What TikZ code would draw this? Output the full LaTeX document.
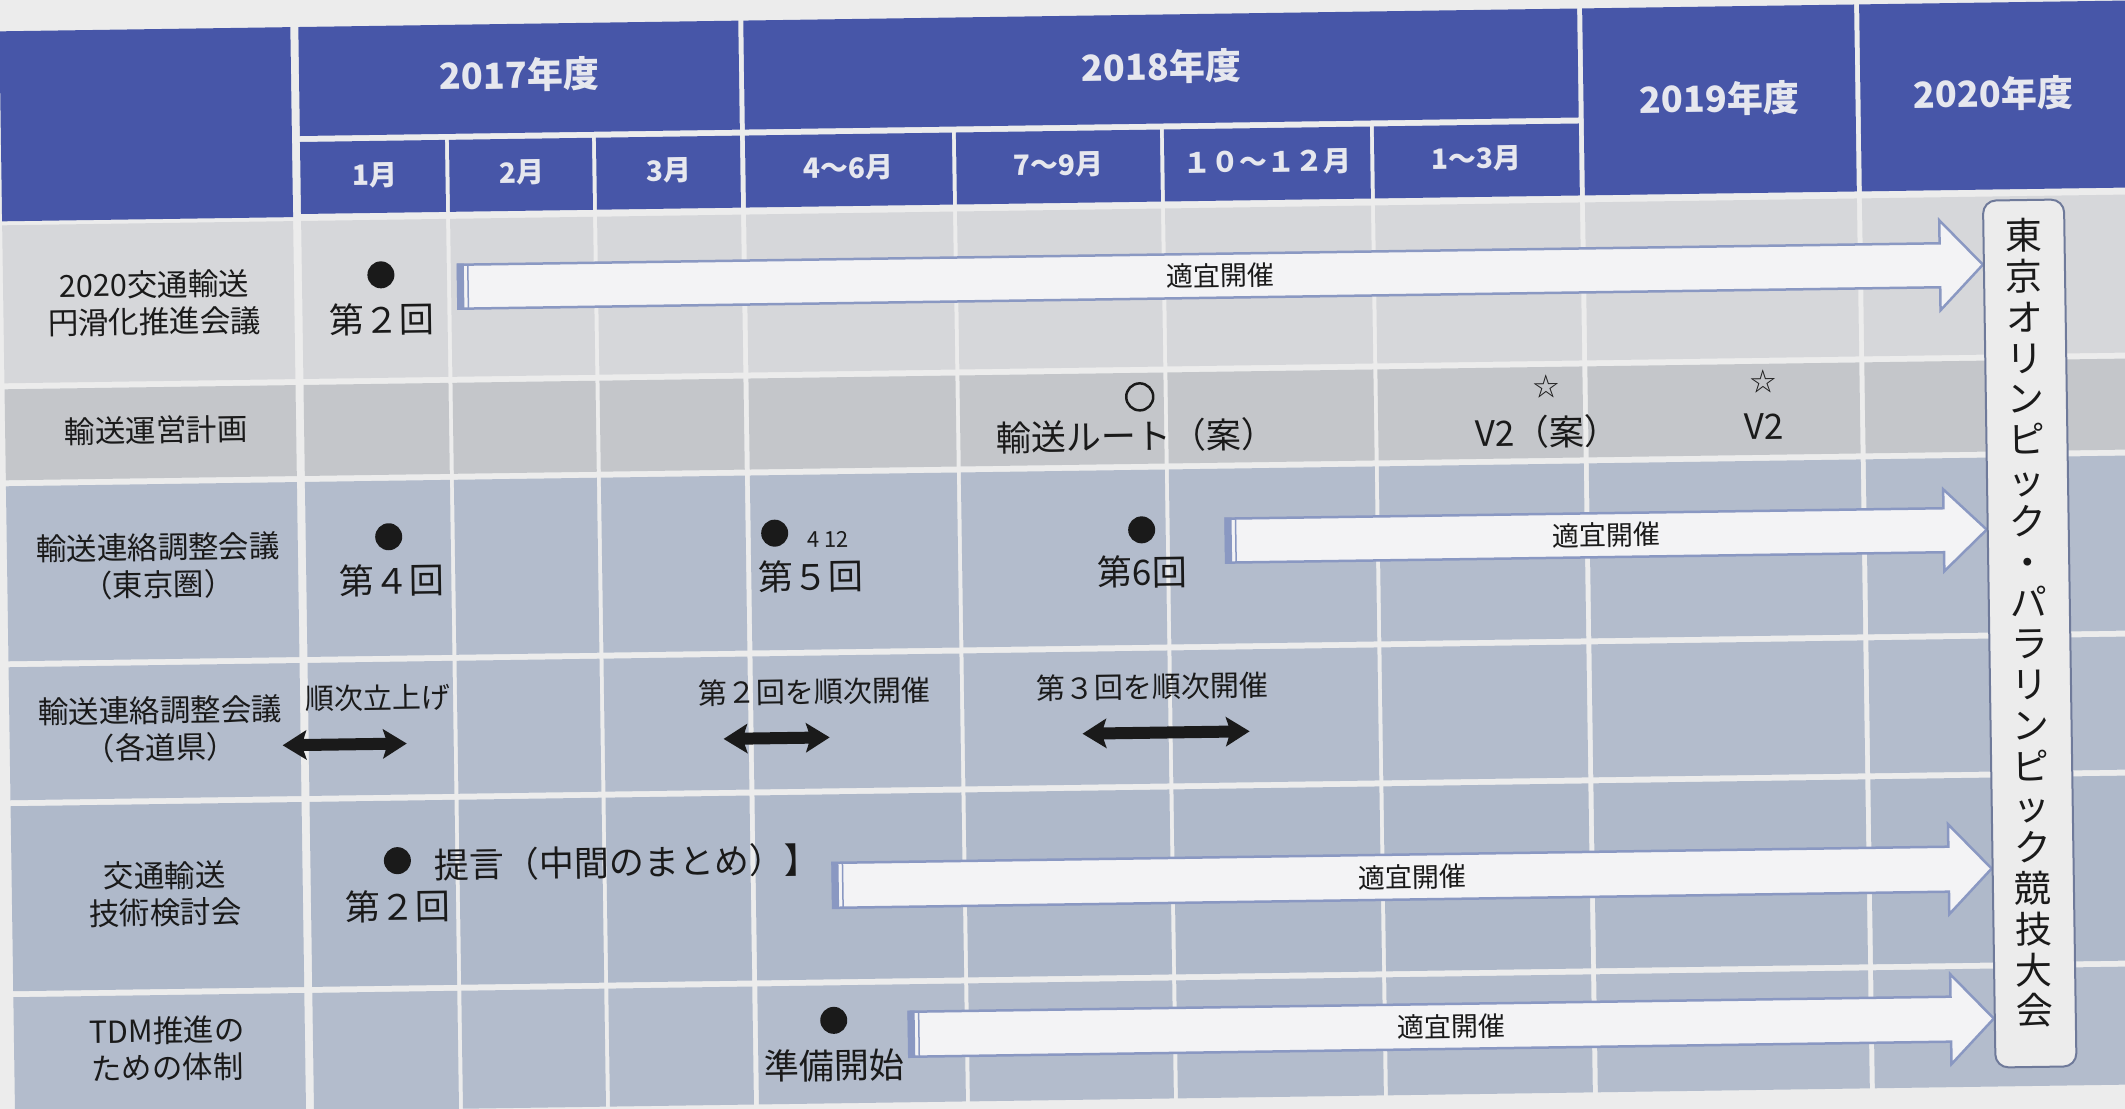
\documentclass[tikz,border=0pt]{standalone}
\usepackage{fontspec}
\newfontfamily\jp{Noto Sans CJK JP}
\definecolor{paper}{HTML}{ECECEC}
\definecolor{hdrblue}{HTML}{4756A8}
\definecolor{hdrtxt}{HTML}{E6E7EE}
\definecolor{rowA}{HTML}{D6D7DA}
\definecolor{rowB}{HTML}{C4C6CA}
\definecolor{rowC}{HTML}{B3BCCC}
\definecolor{rowD}{HTML}{AFB9CA}
\definecolor{arrline}{HTML}{8A98C2}
\definecolor{arrfill}{HTML}{F3F3F5}
\definecolor{boxline}{HTML}{6F7A9A}
\definecolor{ink}{HTML}{1A1A1A}
\tikzset{
  hdrt/.style={text=hdrtxt,font=\jp\bfseries\fontsize{36}{42}\selectfont,inner sep=0pt},
  mont/.style={text=hdrtxt,font=\jp\bfseries\fontsize{28}{32}\selectfont,inner sep=0pt},
  lbl/.style={text=ink,align=center,font=\jp\fontsize{30.5}{37}\selectfont,inner sep=0pt},
  bigt/.style={text=ink,font=\jp\fontsize{35}{40}\selectfont,inner sep=0pt},
  midt/.style={text=ink,font=\jp\fontsize{29}{34}\selectfont,inner sep=0pt},
  art/.style={text=ink,font=\jp\fontsize{27}{32}\selectfont,inner sep=0pt},
  smallt/.style={text=ink,font=\jp\fontsize{22}{24}\selectfont,inner sep=0pt},
  blkarr/.style={fill=arrfill,draw=arrline,line width=2.5pt,line join=miter},
  dotc/.style={circle,fill=ink,inner sep=0pt,minimum size=27pt},
  startxt/.style={text=ink,font=\jp\fontsize{26}{28}\selectfont,inner sep=0pt},
}
% block arrow: #1 left x, #2 centre y, #3 body half height, #4 head half height, #5 node name
\newcommand{\blkarrow}[5]{%
  \draw[blkarr] ({#1},{#2-#3}) -- (1944,{#2-#3}) -- (1944,{#2-#4}) -- (1987,{#2})
     -- (1944,{#2+#4}) -- (1944,{#2+#3}) -- ({#1},{#2+#3}) -- cycle;
  \fill[arrline] ({#1-1},{#2-#3-1}) rectangle ({#1+6},{#2+#3+1});
  \draw[arrline,line width=1.5pt] ({#1+10},{#2-#3}) -- ({#1+10},{#2+#3});
  \node[art] (#5) at ({(#1+1987)/2},{#2}) {適宜開催};
}
% double arrow: #1 left x, #2 right x, #3 y
\newcommand{\dblarrow}[3]{%
  \fill[ink] ({#1},{#3}) -- ({#1+24},{#3-15}) -- ({#1+21},{#3-6}) -- ({#2-21},{#3-6})
     -- ({#2-24},{#3-15}) -- ({#2},{#3}) -- ({#2-24},{#3+15}) -- ({#2-21},{#3+6})
     -- ({#1+21},{#3+6}) -- ({#1+24},{#3+15}) -- cycle;
}
\begin{document}
\begin{tikzpicture}[x=1pt,y=-1pt]
\path[use as bounding box] (0,0) rectangle (2125,1108);
\clip (0,0) rectangle (2125,1108);
\fill[paper] (-20,-20) rectangle (2150,1130);
\begin{scope}[rotate around={0.83:(1062,554)},every node/.append style={transform shape}]
% ---------- header ----------
\fill[hdrblue] (7,16) rectangle (298,206);
\fill[hdrblue] (306,16) rectangle (746,125);
\foreach \xa/\xb in {306/451,455/598,602/746}
  \fill[hdrblue] (\xa,131) rectangle (\xb,203);
\fill[hdrblue] (751,16) rectangle (1585,125);
\foreach \xa/\xb in {751/958,962/1166,1170/1376,1380/1585}
  \fill[hdrblue] (\xa,131) rectangle (\xb,203);
\fill[hdrblue] (1590,16) rectangle (1862,203);
\fill[hdrblue] (1867,16) rectangle (2160,203);
\node[hdrt] (y17) at (526,67) {2017年度};
\node[hdrt] (y18) at (1168,68) {2018年度};
\node[hdrt] (y19) at (1726,108) {2019年度};
\node[hdrt] (y20) at (2000,107) {2020年度};
\node[mont] (m1) at (380,165) {1月};
\node[mont] (m2) at (527,165) {2月};
\node[mont] (m3) at (674,165) {3月};
\node[mont] (m4) at (854,165) {4～6月};
\node[mont] (m7) at (1064,165) {7～9月};
\node[mont] (m10) at (1273,165) {１０～１２月};
\node[mont] (m13) at (1482,165) {1～3月};
% ---------- body cells ----------
\foreach \ya/\yb/\cl in {210/368/rowA,374/465/rowB,471/646/rowC,652/785/rowC,791/976/rowD,982/1100/rowC}
  \foreach \xa/\xb in {7/298,306/451,455/598,602/746,751/958,962/1166,1170/1376,1380/1585,1590/1862,1867/2160}
    \fill[\cl] (\xa,\ya) rectangle (\xb,\yb);
% ---------- row 1 ----------
\node[lbl] (l1) at (158,290) {2020交通輸送\\円滑化推進会議};
\node[dotc] (d1) at (385,265) {};
\node[bigt] (t1) at (385,310) {第２回};
\blkarrow{462}{278}{22}{45}{a1}
% ---------- row 2 ----------
\node[lbl] (l2) at (158,417) {輸送運営計画};
\node[circle,draw=ink,line width=2.5pt,minimum size=27pt,inner sep=0pt] (c2) at (1142,398) {};
\node[bigt] (t2) at (1138,437) {輸送ルート（案）};
\node[startxt] (s1) at (1549,394) {☆};
\node[bigt] (t3) at (1549,439) {V2（案）};
\node[startxt] (s2) at (1766,392) {☆};
\node[bigt] (t4) at (1766,437) {V2};
% ---------- row 3 ----------
\node[lbl] (l3) at (158,553) {輸送連絡調整会議\\（東京圏）};
\node[dotc] (d3a) at (389,527) {};
\node[bigt] (t5) at (391,571) {第４回};
\node[dotc] (d3b) at (775,529) {};
\node[smallt] (t6) at (828,536) {4 12};
\node[bigt] (t7) at (810,573) {第５回};
\node[dotc] (d3c) at (1142,531) {};
\node[bigt] (t8) at (1142,573) {第6回};
\blkarrow{1226}{543}{22}{41}{a3}
% ---------- row 4 ----------
\node[lbl] (l4) at (158,716) {輸送連絡調整会議\\（各道県）};
\node[midt] (t9) at (376,688) {順次立上げ};
\node[midt] (t10) at (812,688) {第２回を順次開催};
\node[midt] (t11) at (1150,688) {第３回を順次開催};
\dblarrow{280}{404}{734}
\dblarrow{721}{827}{734}
\dblarrow{1080}{1247}{734}
% ---------- row 5 ----------
\node[lbl] (l5) at (160,881) {交通輸送\\技術検討会};
\node[dotc] (d5) at (393,851) {};
\node[bigt] (t12) at (622,856) {提言（中間のまとめ）】};
\node[bigt] (t13) at (393,897) {第２回};
\blkarrow{828}{882}{22.5}{45}{a5}
% ---------- row 6 ----------
\node[lbl] (l6) at (160,1036) {TDM推進の\\ための体制};
\node[dotc] (d6) at (827,1017) {};
\node[bigt] (t14) at (827,1062) {準備開始};
\blkarrow{902}{1032}{22.5}{45}{a6}
% ---------- vertical box ----------
\draw[fill=paper,draw=boxline,line width=2pt,rounded corners=13pt] (1988,214) rectangle (2069,1081);
\node[text=ink,align=center,inner sep=0pt,font=\jp\fontsize{37}{40.8}\selectfont] (olym) at (2028,637)
  {東\\京\\オ\\リ\\ン\\ピ\\ッ\\ク\\・\\パ\\ラ\\リ\\ン\\ピ\\ッ\\ク\\競\\技\\大\\会};
\end{scope}
\end{tikzpicture}
\end{document}
